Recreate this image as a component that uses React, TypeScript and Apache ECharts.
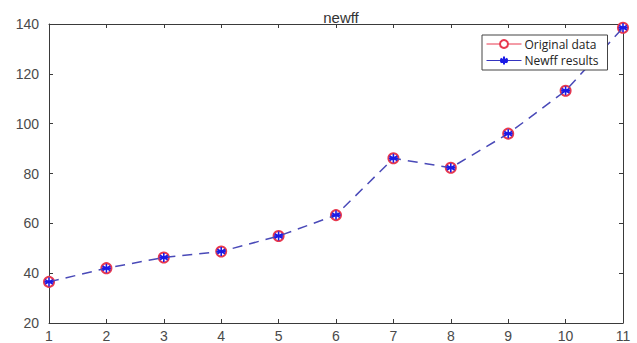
import React, { useEffect, useRef } from "react";
import * as echarts from "echarts";

const xValues = [1, 2, 3, 4, 5, 6, 7, 8, 9, 10, 11];
const originalData = [36.5, 42, 46.3, 48.7, 54.9, 63.3, 86.1, 82.3, 96, 113.2, 138.5];
const newffResults = [36.5, 42, 46.3, 48.7, 54.9, 63.3, 86.1, 82.3, 96, 113.2, 138.5];
const seriesNames = ["Original data", "Newff results"];
const titleText = "newff";

const asterisk =
  "path://M0,-5L0,5M-4.33,-2.5L4.33,2.5M-4.33,2.5L4.33,-2.5M-5,0L5,0";

export default function App() {
  const ref = useRef<HTMLDivElement>(null);
  useEffect(() => {
    const chart = echarts.init(ref.current!, null, { renderer: "svg" });
    const axisColor = "#3a3a3a";
    const labelColor = "#4a4a4a";
    const font = "'Liberation Sans', Arial, sans-serif";
    const baseX = {
      type: "value" as const,
      min: 1,
      max: 11,
      interval: 1,
      splitLine: { show: false },
      axisLine: { show: true, onZero: false, lineStyle: { color: axisColor, width: 1 } },
      axisTick: { show: true, inside: true, length: 4, lineStyle: { color: axisColor } },
    };
    const baseY = {
      type: "value" as const,
      min: 20,
      max: 140,
      interval: 20,
      splitLine: { show: false },
      axisLine: { show: true, onZero: false, lineStyle: { color: axisColor, width: 1 } },
      axisTick: { show: true, inside: true, length: 4, lineStyle: { color: axisColor } },
    };
    chart.setOption({
      animation: false,
      backgroundColor: "#ffffff",
      title: {
        text: titleText,
        left: 336,
        textAlign: "center",
        top: 5,
        textStyle: { fontFamily: font, fontSize: 15, fontWeight: "normal", color: "#333" },
      },
      grid: { left: 49, right: 14, top: 24, bottom: 19, containLabel: false },
      xAxis: [
        {
          ...baseX,
          position: "bottom",
          axisLabel: { color: labelColor, fontSize: 14, fontFamily: font, margin: 6 },
        },
        { ...baseX, position: "top", axisLabel: { show: false } },
      ],
      yAxis: [
        {
          ...baseY,
          position: "left",
          axisLabel: { color: labelColor, fontSize: 14, fontFamily: font, margin: 10 },
        },
        { ...baseY, position: "right", axisLabel: { show: false } },
      ],
      legend: {
        orient: "vertical",
        left: 482,
        top: 35,
        backgroundColor: "#ffffff",
        borderColor: "#444",
        borderWidth: 1,
        borderRadius: 0,
        padding: [3, 9, 3, 4],
        itemGap: 4,
        itemWidth: 35,
        itemHeight: 10,
        textStyle: {
          fontFamily: "'Open Sans', sans-serif",
          fontSize: 12,
          lineHeight: 12,
          color: "#222",
          padding: [0, 0, 0, -2],
        },
        data: [
          {
            name: seriesNames[0],
            lineStyle: { color: "#e8394f", opacity: 1, width: 1, type: "solid" },
          },
          {
            name: seriesNames[1],
            lineStyle: { color: "#3434c0", opacity: 1, width: 1, type: "solid" },
          },
        ],
      },
      series: [
        {
          name: seriesNames[0],
          type: "line",
          data: xValues.map((x, i) => [x, originalData[i]]),
          symbol: "emptyCircle",
          symbolSize: 10,
          showAllSymbol: true,
          itemStyle: { color: "#e8394f", borderColor: "#e8394f", borderWidth: 1.2 },
          lineStyle: { color: "#e8394f", opacity: 0, width: 1 },
          z: 2,
        },
        {
          name: seriesNames[1],
          type: "line",
          data: xValues.map((x, i) => [x, newffResults[i]]),
          symbol: asterisk,
          symbolSize: 9,
          showAllSymbol: true,
          itemStyle: { color: "none", borderColor: "#1a1ae6", borderWidth: 1.6 },
          lineStyle: { color: "#4a4ab8", width: 1.5, type: [10, 7] },
          z: 3,
        },
      ],
    });
    return () => chart.dispose();
  }, []);
  return (
    <div
      ref={ref}
      style={{ position: "fixed", left: 0, top: 0, width: 637, height: 343, background: "#fff" }}
    />
  );
}
